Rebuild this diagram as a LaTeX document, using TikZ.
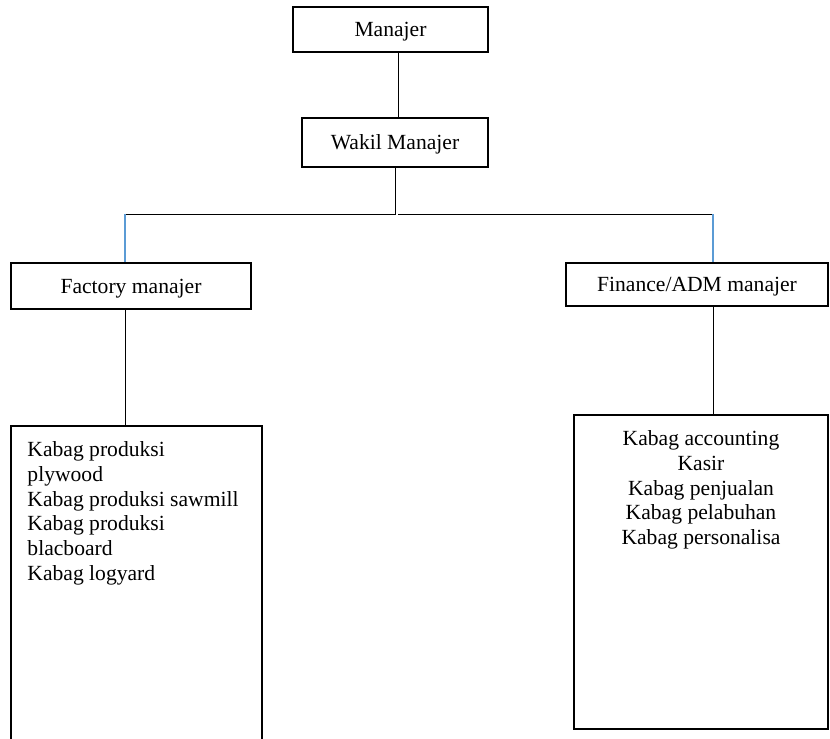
\documentclass[tikz,border=0pt]{standalone}
\usepackage{fontspec}
\setmainfont{Liberation Serif}
\usetikzlibrary{positioning}
\definecolor{linkblue}{HTML}{5B9BD5}
\tikzset{
  orgnode/.style = {align=center, inner sep=0pt, text centered, text depth=0pt, font=\fontsize{16.2}{18.6}\selectfont},
  box_top/.style = {orgnode, rectangle, draw=black, line width=1.2pt},
  box_list/.style = {rectangle, draw=black, line width=1.2pt, inner sep=0pt},
  list_txt/.style = {inner sep=0pt, font=\fontsize{16.2}{18.6}\selectfont},
  link_k/.style = {draw=black, line width=0.6pt},
  link_b/.style = {draw=linkblue, line width=0.9pt},
}

\begin{document}
\begin{tikzpicture}[x=0.75pt, y=-0.75pt]
  \useasboundingbox (0,0) rectangle (830,738);
  % top of the chart
  \node [box_top, minimum width=146.25pt, minimum height=33.75pt] (manajer) at (390.5,29.5) {Manajer};
  \node [box_top, minimum width=139.5pt, minimum height=36.75pt] (wakil) at (395,142.5) {Wakil Manajer};
  % second level
  \node [box_top, minimum width=180pt, minimum height=34.5pt] (factory) at (131,286) {Factory manajer};
  \node [box_top, minimum width=196.5pt, minimum height=32.25pt] (finance) at (697,284.5) {Finance/ADM manajer};
  % lists
  \node [box_list, minimum width=188.25pt, minimum height=250.5pt] (factorylist) at (136.5,593) {};
  \node [list_txt, align=left, anchor=north west] (factorytxt) at ([xshift=12.75pt,yshift=-12pt]factorylist.north west)
    {Kabag produksi\\plywood\\Kabag produksi sawmill\\Kabag produksi\\blacboard\\Kabag logyard};
  \node [box_list, minimum width=190.5pt, minimum height=235.5pt] (financelist) at (701,572) {};
  \node [list_txt, align=center, anchor=north] (financetxt) at ([yshift=-12pt]financelist.north)
    {Kabag accounting\\Kasir\\Kabag penjualan\\Kabag pelabuhan\\Kabag personalisa};
  % connectors
  \coordinate (split) at (395,214);
  \coordinate (lefttop) at (125,214);
  \coordinate (righttop) at (713,214);
  \draw [link_k] ([xshift=5.6pt]manajer.south) -- ([xshift=5.6pt]manajer.south |- wakil.north);
  \draw [link_k] (wakil.south) -- (split) -- (lefttop);
  \draw [link_k] ([xshift=2.5pt]split) -- (righttop);
  \draw [link_b] (lefttop) -- (lefttop |- factory.north);
  \draw [link_b] (righttop) -- (righttop |- finance.north);
  \draw [link_k] (lefttop |- factory.south) -- (lefttop |- factorylist.north);
  \draw [link_k] (righttop |- finance.south) -- (righttop |- financelist.north);
\end{tikzpicture}
\end{document}
